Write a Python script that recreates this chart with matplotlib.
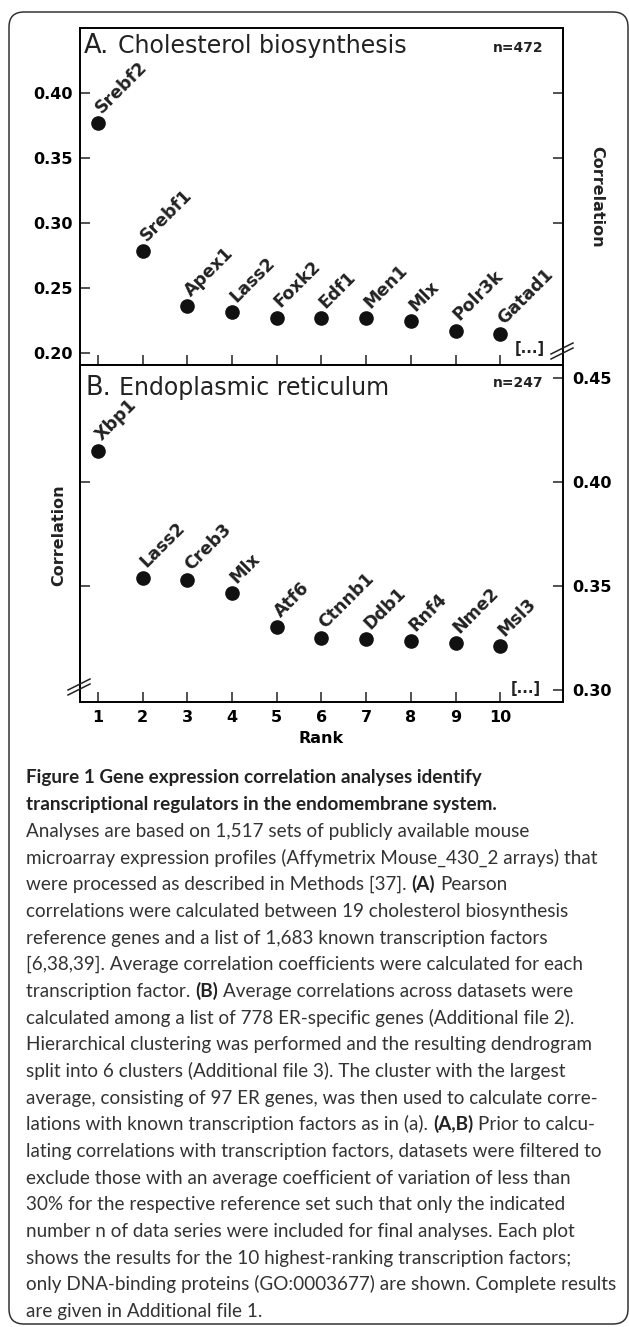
import numpy as np
import matplotlib.pyplot as plt
from matplotlib.patches import FancyBboxPatch
from matplotlib.lines import Line2D
from matplotlib.transforms import IdentityTransform

W, H = 629, 1327

ranks = list(range(1, 11))

genes_a = ['Srebf2', 'Srebf1', 'Apex1', 'Lass2', 'Foxk2', 'Edf1', 'Men1', 'Mlx', 'Polr3k', 'Gatad1']
corr_a = [0.3765, 0.278, 0.236, 0.231, 0.227, 0.2265, 0.2265, 0.2245, 0.217, 0.2145]

genes_b = ['Xbp1', 'Lass2', 'Creb3', 'Mlx', 'Atf6', 'Ctnnb1', 'Ddb1', 'Rnf4', 'Nme2', 'Msl3']
corr_b = [0.415, 0.354, 0.353, 0.3465, 0.330, 0.325, 0.3245, 0.3235, 0.3225, 0.321]

yticks_a = [0.20, 0.25, 0.30, 0.35, 0.40]
right_ticks_a = [0.30, 0.35, 0.40]
yticks_b = [0.30, 0.35, 0.40, 0.45]
left_ticks_b = [0.35, 0.40]

caption = [
    [("Figure 1 Gene expression correlation analyses identify", True)],
    [("transcriptional regulators in the endomembrane system.", True)],
    [("Analyses are based on 1,517 sets of publicly available mouse", False)],
    [("microarray expression profiles (Affymetrix Mouse_430_2 arrays) that", False)],
    [("were processed as described in Methods [37].", False), ("(A)", True), ("Pearson", False)],
    [("correlations were calculated between 19 cholesterol biosynthesis", False)],
    [("reference genes and a list of 1,683 known transcription factors", False)],
    [("[6,38,39]. Average correlation coefficients were calculated for each", False)],
    [("transcription factor.", False), ("(B)", True), ("Average correlations across datasets were", False)],
    [("calculated among a list of 778 ER-specific genes (Additional file 2).", False)],
    [("Hierarchical clustering was performed and the resulting dendrogram", False)],
    [("split into 6 clusters (Additional file 3). The cluster with the largest", False)],
    [("average, consisting of 97 ER genes, was then used to calculate corre-", False)],
    [("lations with known transcription factors as in (a).", False), ("(A,B)", True), ("Prior to calcu-", False)],
    [("lating correlations with transcription factors, datasets were filtered to", False)],
    [("exclude those with an average coefficient of variation of less than", False)],
    [("30% for the respective reference set such that only the indicated", False)],
    [("number n of data series were included for final analyses. Each plot", False)],
    [("shows the results for the 10 highest-ranking transcription factors;", False)],
    [("only DNA-binding proteins (GO:0003677) are shown. Complete results", False)],
    [("are given in Additional file 1.", False)],
]

plt.rcParams['font.family'] = ['DejaVu Sans']
plt.rcParams['axes.linewidth'] = 1.4

fig = plt.figure(figsize=(W / 100, H / 100), dpi=100)


def fpos(x, y):
    return x / W, 1 - y / H


def box(y0, y1):
    return [79.5 / W, 1 - y1 / H, (563 - 79.5) / W, (y1 - y0) / H]


# outer frame
frame = FancyBboxPatch((9, H - 1324), 619, 1312, boxstyle='round,pad=0,rounding_size=15',
                       transform=IdentityTransform(), fc='none', ec='#333333', lw=1.1)
fig.patches.append(frame)

axA = fig.add_axes(box(28, 365))
axB = fig.add_axes(box(365, 702))

tick_kw = dict(direction='in', length=7, width=1.1, color='#222222')


def scatter(ax, vals, names):
    ax.plot(ranks, vals, 'o', color='#111111', ms=9.5)
    for r, v, n in zip(ranks, vals, names):
        ax.annotate(n, (r, v), xytext=(5, 4.5), textcoords='offset points',
                    rotation=45, rotation_mode='anchor', ha='left', va='bottom',
                    fontsize=12.5, fontweight='bold', color='#222222')


# panel A
scatter(axA, corr_a, genes_a)
axA.set_xlim(0.59, 11.4)
axA.set_ylim(0.1905, 0.4498)
axA.set_xticks(ranks)
axA.tick_params(axis='x', labelbottom=False, **tick_kw)
axA.set_yticks(yticks_a)
axA.set_yticklabels([f'{v:.2f}' for v in yticks_a], fontweight='bold', fontsize=11.5)
axA.tick_params(axis='y', pad=5, **tick_kw)
secA = axA.secondary_yaxis('right')
secA.set_yticks(right_ticks_a)
secA.tick_params(labelright=False, **tick_kw)

# panel B
scatter(axB, corr_b, genes_b)
axB.set_xlim(0.59, 11.4)
axB.set_ylim(0.2942, 0.4561)
axB.set_xticks(ranks)
axB.set_xticklabels([str(r) for r in ranks], fontweight='bold', fontsize=11.5)
axB.tick_params(axis='x', pad=6, **tick_kw)
axB.yaxis.tick_right()
axB.set_yticks(yticks_b)
axB.set_yticklabels([f'{v:.2f}' for v in yticks_b], fontweight='bold', fontsize=11.5)
axB.tick_params(axis='y', pad=7, **tick_kw)
secB = axB.secondary_yaxis('left')
secB.set_yticks(left_ticks_b)
secB.tick_params(labelleft=False, **tick_kw)
axB.set_xlabel('Rank', fontweight='bold', fontsize=11.5, labelpad=4)

# titles and labels
fig.text(*fpos(84, 53), 'A.', fontsize=18.5, color='#222222', va='baseline')
fig.text(*fpos(118, 53), 'Cholesterol biosynthesis', fontsize=17, color='#222222', va='baseline')
fig.text(*fpos(543, 52), 'n=472', fontsize=10, fontweight='bold', color='#222222', ha='right', va='baseline')
fig.text(*fpos(86, 395), 'B.', fontsize=18.5, color='#222222', va='baseline')
fig.text(*fpos(119, 395), 'Endoplasmic reticulum', fontsize=17, color='#222222', va='baseline')
fig.text(*fpos(543, 387), 'n=247', fontsize=10, fontweight='bold', color='#222222', ha='right', va='baseline')
fig.text(*fpos(597, 197), 'Correlation', fontsize=11.5, fontweight='bold', rotation=270,
         ha='center', va='center', color='#222222')
fig.text(*fpos(59, 535), 'Correlation', fontsize=11.5, fontweight='bold', rotation=90,
         ha='center', va='center', color='#222222')
fig.text(*fpos(530, 349), '[...]', fontsize=10.5, fontweight='bold', ha='center', va='center', color='#222222')
fig.text(*fpos(526, 688), '[...]', fontsize=10.5, fontweight='bold', ha='center', va='center', color='#222222')

# axis break marks (pixel coordinates)
for cx, cy in [(562, 351), (79, 687)]:
    for d in (-2.5, 2.5):
        fig.lines.append(Line2D([cx - 11, cx + 11], [H - cy - d - 5.5, H - cy - d + 5.5],
                                transform=IdentityTransform(), color='#222222', lw=1.1))

# caption
renderer = fig.canvas.get_renderer()
cap_fs = 13.55
cap_font = ['Lato', 'DejaVu Sans']
probe1 = fig.text(0, 0, 'x x', fontsize=cap_fs, family=cap_font)
probe2 = fig.text(0, 0, 'xx', fontsize=cap_fs, family=cap_font)
space_w = probe1.get_window_extent(renderer).width - probe2.get_window_extent(renderer).width
probe1.remove()
probe2.remove()

for i, parts in enumerate(caption):
    y = 783.5 + i * 26.67
    x = 26
    for txt, bold in parts:
        t = fig.text(*fpos(x, y), txt, fontsize=cap_fs, family=cap_font,
                     weight='bold' if bold else 'normal',
                     color='#222222' if bold else '#333333', va='baseline', ha='left')
        x += t.get_window_extent(renderer).width + space_w

fig.savefig('out.png', dpi=100)
